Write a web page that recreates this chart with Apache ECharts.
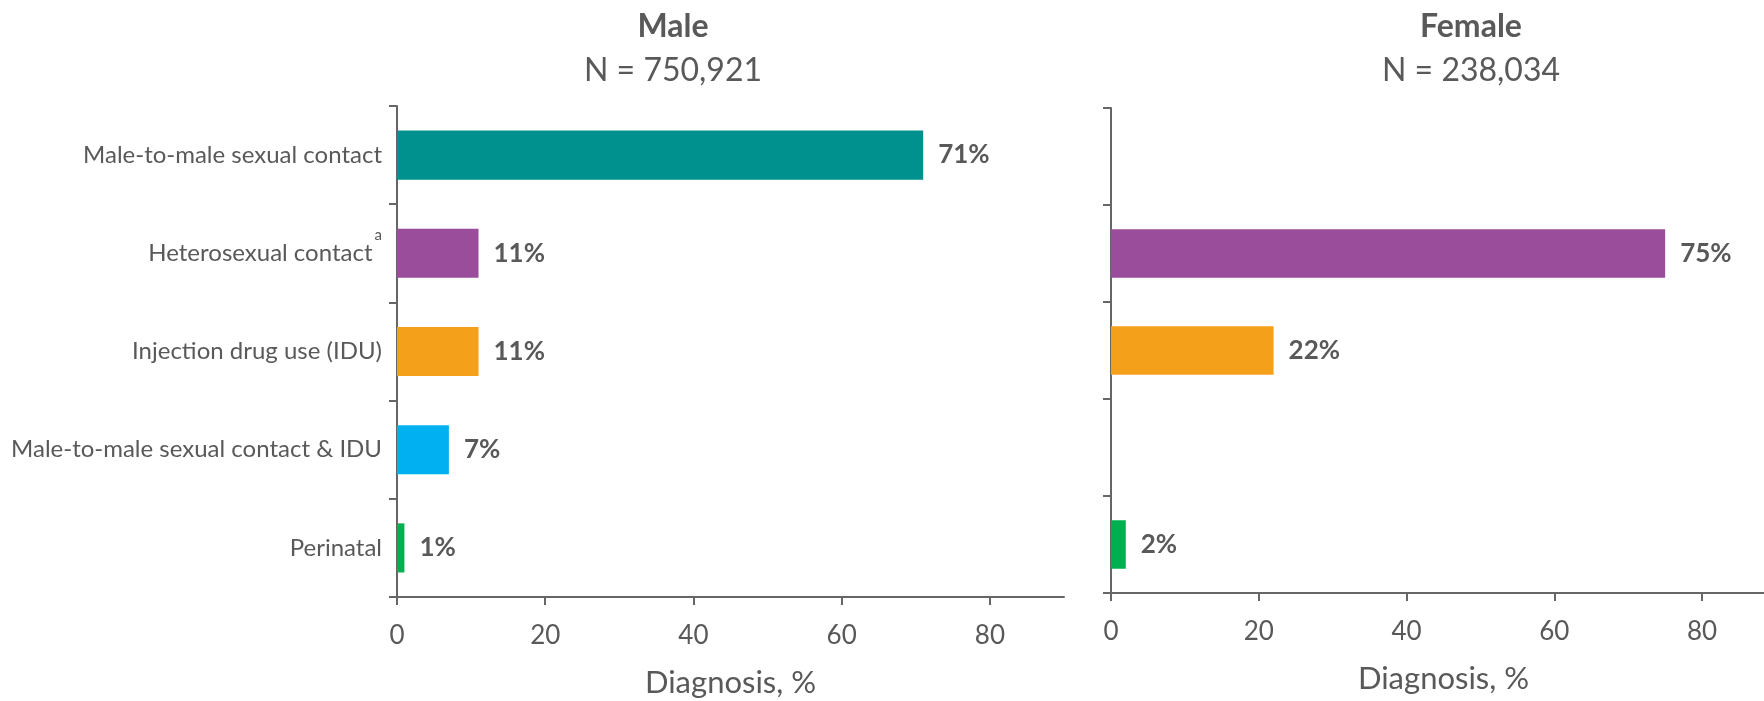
<!DOCTYPE html>
<html>
<head>
<meta charset="utf-8">
<script src="https://cdn.jsdelivr.net/npm/echarts@6/dist/echarts.min.js"></script>
<style>
  html, body { margin: 0; padding: 0; background: #ffffff; }
  #chart { width: 1764px; height: 701px; }
</style>
</head>
<body>
<div id="chart"></div>
<script>
// Transmission categories, top to bottom
const categories = [
  'Male-to-male sexual contact',
  'Heterosexual contact',
  'Injection drug use (IDU)',
  'Male-to-male sexual contact & IDU',
  'Perinatal'
];
const categoryColors = ['#00918e', '#9a4d9a', '#f5a01b', '#00b0f0', '#00b050'];

// Share of diagnoses (%) by category; null where the category does not apply
const maleValues = [71, 11, 11, 7, 1];
const femaleValues = [null, 75, 22, null, 2];

const maleTitle = 'Male';
const maleTotal = 'N = 750,921';
const femaleTitle = 'Female';
const femaleTotal = 'N = 238,034';

const xTickValues = [0, 20, 40, 60, 80];
const xAxisName = 'Diagnosis, %';

const FONT = 'Lato, "Noto Sans", sans-serif';
const TEXT = '#595959';
const LINE = '#666666';

const chart = echarts.init(document.getElementById('chart'));

function valueAxis(gridIndex) {
  return {
    type: 'value',
    gridIndex: gridIndex,
    min: 0,
    max: 90,
    interval: 20,
    splitLine: { show: false },
    axisLine: { show: true, lineStyle: { color: LINE, width: 2 } },
    axisTick: { show: true, length: 8, lineStyle: { color: LINE, width: 2 }, customValues: xTickValues },
    axisLabel: { color: TEXT, fontFamily: FONT, fontSize: 26, margin: 26, customValues: xTickValues },
    name: xAxisName,
    nameLocation: 'middle',
    nameGap: 70,
    nameTextStyle: { color: TEXT, fontFamily: FONT, fontSize: 31 }
  };
}

function categoryAxis(gridIndex, showLabels) {
  return {
    type: 'category',
    gridIndex: gridIndex,
    data: categories,
    inverse: true,
    axisLine: { show: true, lineStyle: { color: LINE, width: 2 } },
    axisTick: { show: true, length: 8, lineStyle: { color: LINE, width: 2 } },
    axisLabel: {
      show: showLabels,
      margin: 15,
      color: TEXT,
      fontFamily: FONT,
      fontSize: 24,
      formatter: function (v) {
        return v === 'Heterosexual contact' ? '{t|' + v + '}{s|a}' : '{t|' + v + '}';
      },
      rich: {
        t: { color: TEXT, fontFamily: FONT, fontSize: 24 },
        s: { color: TEXT, fontFamily: FONT, fontSize: 15, padding: [0, 0, 36, 2] }
      }
    }
  };
}

function barSeries(values, axisIndex) {
  return {
    type: 'bar',
    xAxisIndex: axisIndex,
    yAxisIndex: axisIndex,
    barWidth: '50%',
    data: values.map(function (v, i) {
      return v === null ? null : { value: v, itemStyle: { color: categoryColors[i] } };
    }),
    label: {
      show: true,
      position: 'right',
      distance: 15,
      color: TEXT,
      fontFamily: FONT,
      fontWeight: 'bold',
      fontSize: 26,
      formatter: function (p) { return p.value + '%'; }
    },
    silent: true
  };
}

function headerTitle(text, total, centerX) {
  return [
    {
      text: text,
      left: centerX,
      top: 6,
      textAlign: 'center',
      textStyle: { color: TEXT, fontFamily: FONT, fontWeight: 'bold', fontSize: 32 }
    },
    {
      text: total,
      left: centerX,
      top: 50,
      textAlign: 'center',
      textStyle: { color: TEXT, fontFamily: FONT, fontWeight: 'normal', fontSize: 32 }
    }
  ];
}

chart.setOption({
  animation: false,
  backgroundColor: '#ffffff',
  title: headerTitle(maleTitle, maleTotal, 668).concat(headerTitle(femaleTitle, femaleTotal, 1466)),
  grid: [
    { left: 397, top: 106, width: 667, height: 491, outerBoundsMode: 'none' },
    { left: 1111, top: 108, width: 665, height: 485, outerBoundsMode: 'none' }
  ],
  xAxis: [valueAxis(0), valueAxis(1)],
  yAxis: [categoryAxis(0, true), categoryAxis(1, false)],
  series: [barSeries(maleValues, 0), barSeries(femaleValues, 1)]
});
</script>
</body>
</html>
